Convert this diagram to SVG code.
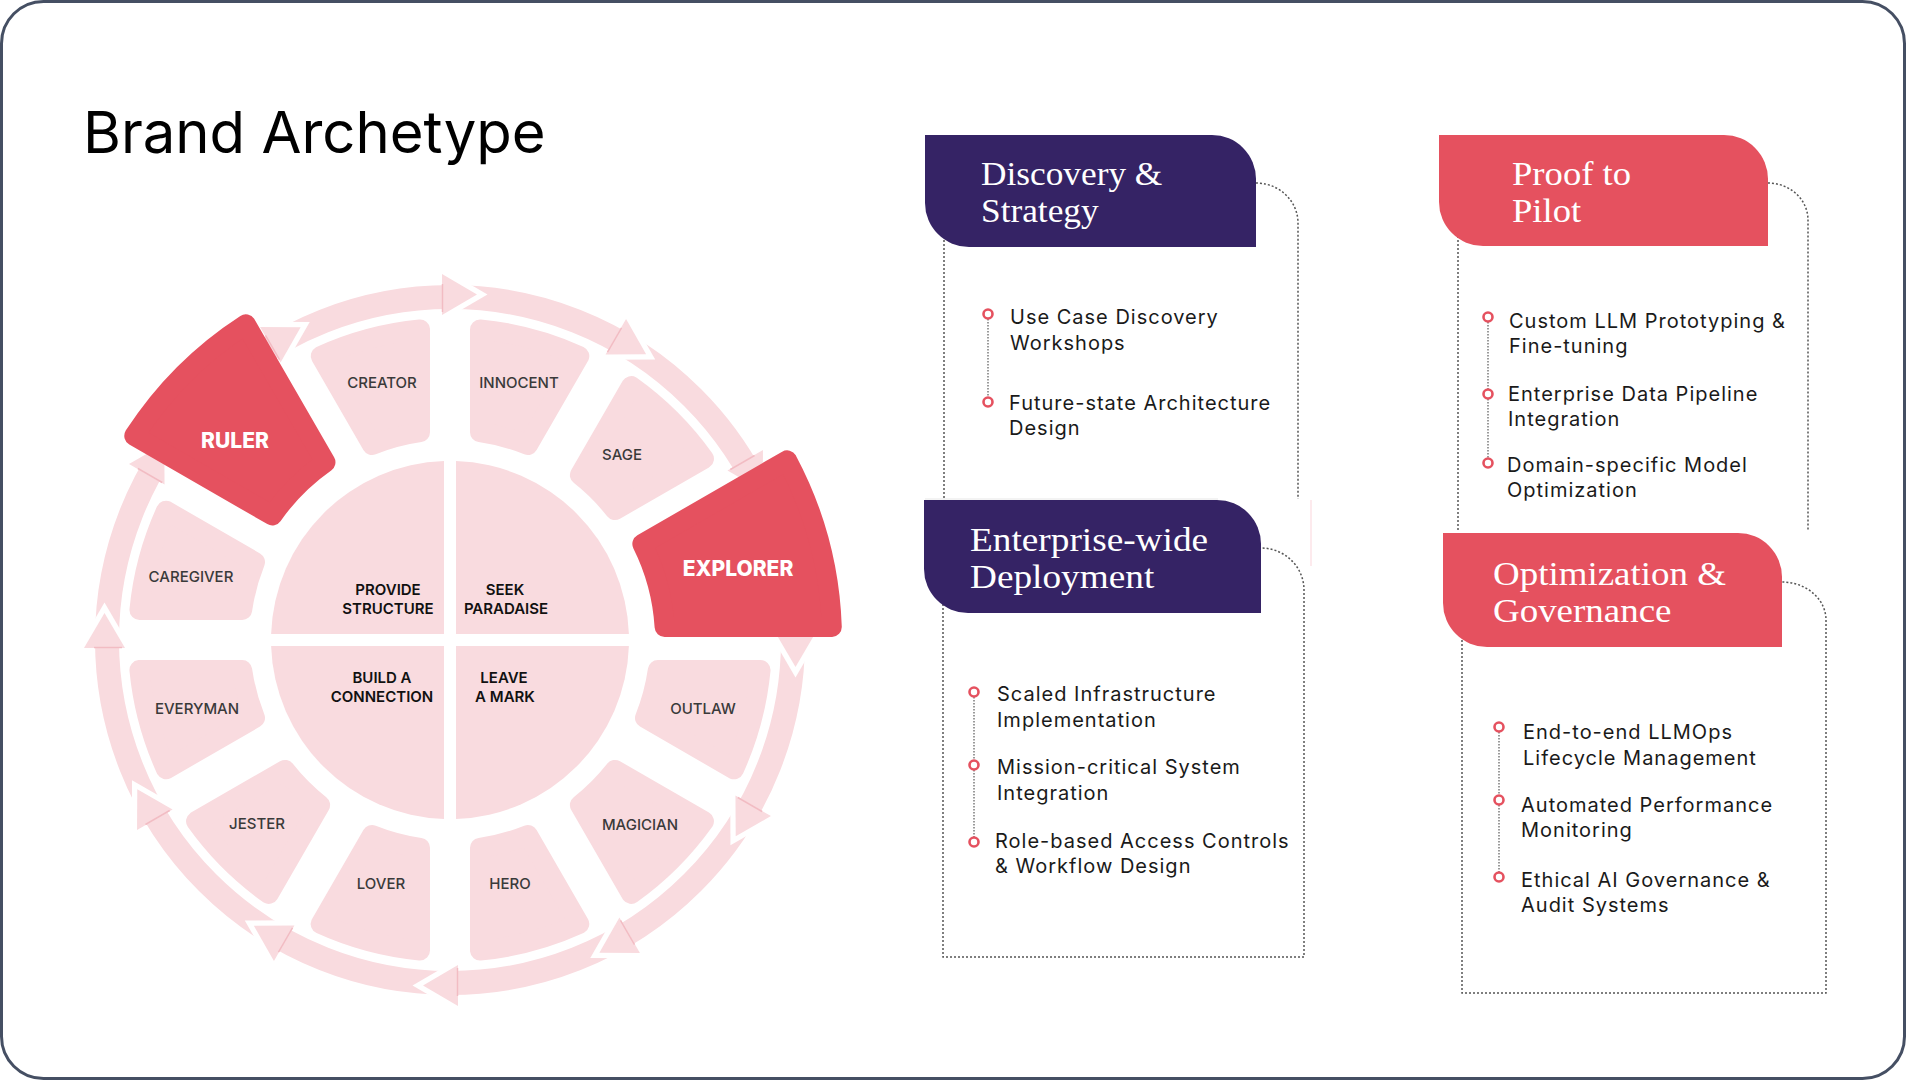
<svg xmlns="http://www.w3.org/2000/svg" xmlns:xlink="http://www.w3.org/1999/xlink" width="1906" height="1080" viewBox="0 0 1906 1080">
<style>
.band{fill:none;stroke:#f9dbdf;stroke-width:24}
.seg{fill:#f9dbdf;stroke:#f9dbdf;stroke-width:20;stroke-linejoin:round}
.hot{fill:#e5515f;stroke:#e5515f;stroke-width:20;stroke-linejoin:round}
.quad{fill:#f9dbdf}
.lbl{font-family:Inter,"Liberation Sans",sans-serif;font-size:15px;font-weight:500;fill:#3a3a3a;text-anchor:middle}
.ilbl{font-family:Inter,"Liberation Sans",sans-serif;font-size:15px;font-weight:600;fill:#111;text-anchor:middle}
.big{font-family:Inter,"Liberation Sans",sans-serif;font-size:21px;font-weight:800;fill:#fff;text-anchor:middle}
.title{font-family:Inter,"Liberation Sans",sans-serif;font-size:58px;font-weight:400;fill:#000}
.hdr-p{fill:#352365}
.hdr-r{fill:#e5515f}
.htxt{font-family:"Liberation Serif",serif;font-size:33px;fill:#fff}
.body{font-family:Inter,"Liberation Sans",sans-serif;font-size:20px;fill:#1a1a1a;letter-spacing:1px}
.dot{fill:none;stroke:#555;stroke-width:1.5;stroke-dasharray:2 2}
.vdot{fill:none;stroke:#666;stroke-width:1.3;stroke-dasharray:1.5 1.5}
.bul{fill:#fff;stroke:#e5515f;stroke-width:2.6}
</style>
<defs>
<path id="segbase" d="M480,329.45 A312,312 0 0 1 579.3,356.04 L527.94,445 A210,210 0 0 0 480,432.15 Z"/>
<g id="arr">
<polygon points="442,268 487.5,294.5 442,321" fill="#fff"/>
<polygon points="442,274 477,294.5 442,315" fill="#f9dbdf"/>
<line x1="442.5" y1="284" x2="442.5" y2="312" stroke="#f2bcc3" stroke-width="1.5"/>
</g>
</defs>
<rect x="1.5" y="1.5" width="1903" height="1077" rx="42" fill="#fff" stroke="#454f63" stroke-width="3"/>
<text class="title" x="83" y="153">Brand Archetype</text>

<g id="cycle-arrows">
<circle class="band" cx="450" cy="640" r="343"/>
<use xlink:href="#arr"/>
<use xlink:href="#arr" transform="rotate(30 450 640)"/>
<use xlink:href="#arr" transform="rotate(60 450 640)"/>
<use xlink:href="#arr" transform="rotate(90 450 640)"/>
<use xlink:href="#arr" transform="rotate(120 450 640)"/>
<use xlink:href="#arr" transform="rotate(150 450 640)"/>
<use xlink:href="#arr" transform="rotate(180 450 640)"/>
<use xlink:href="#arr" transform="rotate(210 450 640)"/>
<use xlink:href="#arr" transform="rotate(240 450 640)"/>
<use xlink:href="#arr" transform="rotate(270 450 640)"/>
<use xlink:href="#arr" transform="rotate(300 450 640)"/>
<use xlink:href="#arr" transform="rotate(330 450 640)"/>
</g>

<g id="quad-provide-structure"><path class="quad" d="M444,634 L444,461.1 A179,179 0 0 0 271.1,634 Z"/><text class="ilbl" x="388" y="595">PROVIDE</text><text class="ilbl" x="388" y="614">STRUCTURE</text></g>
<g id="quad-seek-paradaise"><path class="quad" d="M456,634 L628.9,634 A179,179 0 0 0 456,461.1 Z"/><text class="ilbl" x="505" y="595">SEEK</text><text class="ilbl" x="506" y="614">PARADAISE</text></g>
<g id="quad-build-connection"><path class="quad" d="M444,646 L271.1,646 A179,179 0 0 0 444,818.9 Z"/><text class="ilbl" x="382" y="683">BUILD A</text><text class="ilbl" x="382" y="702">CONNECTION</text></g>
<g id="quad-leave-mark"><path class="quad" d="M456,646 L456,818.9 A179,179 0 0 0 628.9,646 Z"/><text class="ilbl" x="504" y="683">LEAVE</text><text class="ilbl" x="505" y="702">A MARK</text></g>

<g id="seg-creator"><use xlink:href="#segbase" class="seg" transform="rotate(330 450 640)"/><text class="lbl" x="382" y="388">CREATOR</text></g>
<g id="seg-innocent"><use xlink:href="#segbase" class="seg"/><text class="lbl" x="519" y="388">INNOCENT</text></g>
<g id="seg-sage"><use xlink:href="#segbase" class="seg" transform="rotate(30 450 640)"/><text class="lbl" x="622" y="460">SAGE</text></g>
<g id="seg-outlaw"><use xlink:href="#segbase" class="seg" transform="rotate(90 450 640)"/><text class="lbl" x="703" y="714">OUTLAW</text></g>
<g id="seg-magician"><use xlink:href="#segbase" class="seg" transform="rotate(120 450 640)"/><text class="lbl" x="640" y="830">MAGICIAN</text></g>
<g id="seg-hero"><use xlink:href="#segbase" class="seg" transform="rotate(150 450 640)"/><text class="lbl" x="510" y="889">HERO</text></g>
<g id="seg-lover"><use xlink:href="#segbase" class="seg" transform="rotate(180 450 640)"/><text class="lbl" x="381" y="889">LOVER</text></g>
<g id="seg-jester"><use xlink:href="#segbase" class="seg" transform="rotate(210 450 640)"/><text class="lbl" x="257" y="829">JESTER</text></g>
<g id="seg-everyman"><use xlink:href="#segbase" class="seg" transform="rotate(240 450 640)"/><text class="lbl" x="197" y="714">EVERYMAN</text></g>
<g id="seg-caregiver"><use xlink:href="#segbase" class="seg" transform="rotate(270 450 640)"/><text class="lbl" x="191" y="582">CAREGIVER</text></g>
<g id="seg-ruler"><path class="hot" d="M134.29,435.79 A376,376 0 0 1 245.79,324.29 L325.46,462.29 A217,217 0 0 0 272.29,515.46 Z"/><text class="big" x="235" y="448">RULER</text></g>
<g id="seg-explorer"><path class="hot" d="M787.13,460.37 A382,382 0 0 1 831.78,627 L664.61,627 A215,215 0 0 0 642.35,543.95 Z"/><text class="big" x="738" y="576">EXPLORER</text></g>

<g id="connectors">
<path class="dot" d="M944,200 L944,499"/>
<path class="dot" d="M1256,183 A42,40 0 0 1 1298,223 L1298,499"/>
<line x1="925" y1="499" x2="1218" y2="499" stroke="#efefef" stroke-width="1.5"/>
<line x1="1311" y1="500" x2="1311" y2="566" stroke="#fde3e7" stroke-width="1.5"/>
<path class="dot" d="M943,580 L943,957 L1304,957 L1304,590 A43,42 0 0 0 1261,548"/>
<path class="dot" d="M1458,200 L1458,530"/>
<path class="dot" d="M1768,183 A40,37 0 0 1 1808,220 L1808,530"/>
<path class="dot" d="M1462,600 L1462,993 L1826,993 L1826,620 A44,38 0 0 0 1782,582"/>
<path class="vdot" d="M988,319 V397"/>
<path class="vdot" d="M974,697 V760 M974,770 V837"/>
<path class="vdot" d="M1488,322 V389 M1488,399 V458"/>
<path class="vdot" d="M1499,732 V795 M1499,805 V872"/>
</g>

<g id="card-discovery">
<path class="hdr-p" d="M925,135 H1212 A44,44 0 0 1 1256,179 V247 H969 A44,44 0 0 1 925,203 Z"/>
<text class="htxt" transform="translate(981,185) scale(1.07,1)">Discovery &amp;</text>
<text class="htxt" transform="translate(981,222) scale(1.07,1)">Strategy</text>
<circle class="bul" cx="988" cy="314" r="4.5"/>
<text class="body" x="1010" y="324">Use Case Discovery</text>
<text class="body" x="1010" y="350">Workshops</text>
<circle class="bul" cx="988" cy="402" r="4.5"/>
<text class="body" x="1009" y="410">Future-state Architecture</text>
<text class="body" x="1009" y="435">Design</text>
</g>

<g id="card-enterprise">
<path class="hdr-p" d="M924,500 H1217 A44,44 0 0 1 1261,544 V613 H968 A44,44 0 0 1 924,569 Z"/>
<text class="htxt" transform="translate(970,551) scale(1.13,1)">Enterprise-wide</text>
<text class="htxt" transform="translate(970,588) scale(1.13,1)">Deployment</text>
<circle class="bul" cx="974" cy="692" r="4.5"/>
<text class="body" x="997" y="701">Scaled Infrastructure</text>
<text class="body" x="997" y="727">Implementation</text>
<circle class="bul" cx="974" cy="765" r="4.5"/>
<text class="body" x="997" y="774">Mission-critical System</text>
<text class="body" x="997" y="800">Integration</text>
<circle class="bul" cx="974" cy="842" r="4.5"/>
<text class="body" x="995" y="848">Role-based Access Controls</text>
<text class="body" x="995" y="873">&amp; Workflow Design</text>
</g>

<g id="card-proof">
<path class="hdr-r" d="M1439,135 H1724 A44,44 0 0 1 1768,179 V246 H1483 A44,44 0 0 1 1439,202 Z"/>
<text class="htxt" transform="translate(1512,185) scale(1.11,1)">Proof to</text>
<text class="htxt" transform="translate(1512,222) scale(1.11,1)">Pilot</text>
<circle class="bul" cx="1488" cy="317" r="4.5"/>
<text class="body" x="1509" y="328">Custom LLM Prototyping &amp;</text>
<text class="body" x="1509" y="353">Fine-tuning</text>
<circle class="bul" cx="1488" cy="394" r="4.5"/>
<text class="body" x="1508" y="401">Enterprise Data Pipeline</text>
<text class="body" x="1508" y="426">Integration</text>
<circle class="bul" cx="1488" cy="463" r="4.5"/>
<text class="body" x="1507" y="472">Domain-specific Model</text>
<text class="body" x="1507" y="497">Optimization</text>
</g>

<g id="card-optimization">
<path class="hdr-r" d="M1443,533 H1738 A44,44 0 0 1 1782,577 V647 H1487 A44,44 0 0 1 1443,603 Z"/>
<text class="htxt" transform="translate(1493,585) scale(1.12,1)">Optimization &amp;</text>
<text class="htxt" transform="translate(1493,622) scale(1.12,1)">Governance</text>
<circle class="bul" cx="1499" cy="727" r="4.5"/>
<text class="body" x="1523" y="739">End-to-end LLMOps</text>
<text class="body" x="1523" y="765">Lifecycle Management</text>
<circle class="bul" cx="1499" cy="800" r="4.5"/>
<text class="body" x="1521" y="812">Automated Performance</text>
<text class="body" x="1521" y="837">Monitoring</text>
<circle class="bul" cx="1499" cy="877" r="4.5"/>
<text class="body" x="1521" y="887">Ethical AI Governance &amp;</text>
<text class="body" x="1521" y="912">Audit Systems</text>
</g>
</svg>
